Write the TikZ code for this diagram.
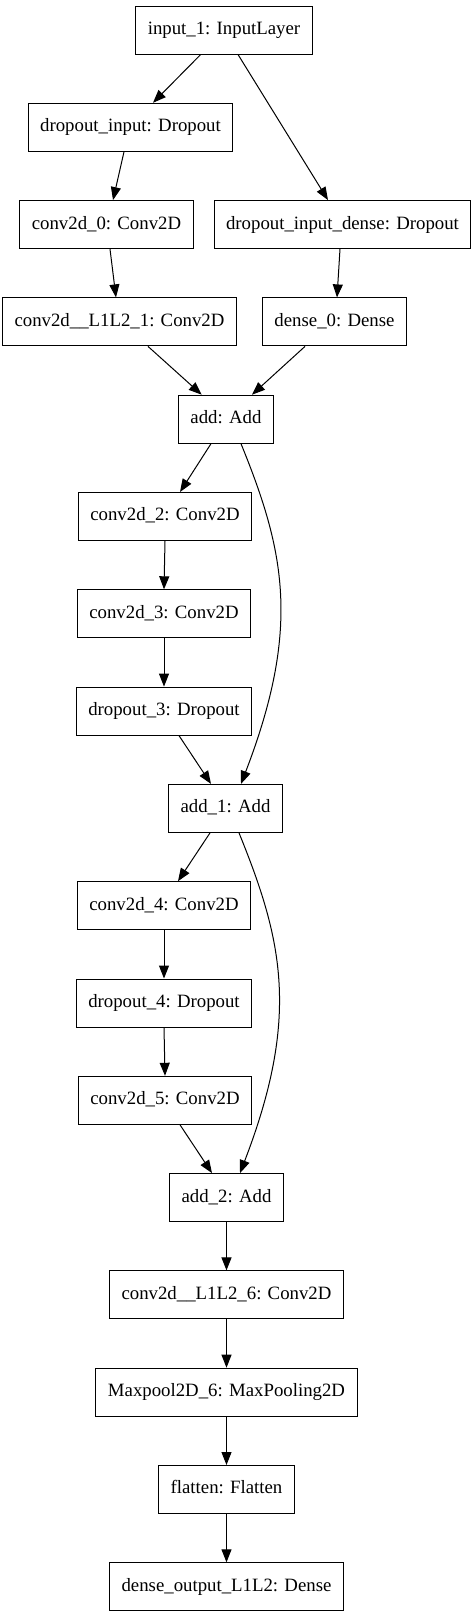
\documentclass[tikz,border=0pt]{standalone}
\usepackage{fontspec}
\setmainfont{Liberation Serif}
\usepackage{tikz}
\usetikzlibrary{arrows.meta}
\tikzstyle{layerBox} = [rectangle, draw, line width=1pt, minimum height=48pt, inner xsep=12pt, inner ysep=0pt, text height=12.8pt, text depth=4pt, font=\fontsize{18.8pt}{22pt}\selectfont]

\begin{document}
\begin{tikzpicture}[node distance=97.3pt, >={Triangle[length=13pt, width=10pt]}, line width=1pt]
    \useasboundingbox (0,0) rectangle (475pt,-1617pt);
    \node[layerBox] at (224pt,-30pt) (in1){input\_1: InputLayer};
    \node[layerBox, below of=in1, xshift=-93.5pt] (dropIn){dropout\_input: Dropout};
    \node[layerBox, below of=dropIn, xshift=-24pt] (conv0){conv2d\_0: Conv2D};
    \node[layerBox, below of=dropIn, xshift=212pt] (dropDense){dropout\_input\_dense: Dropout};
    \node[layerBox, below of=conv0, xshift=13pt] (l1l2a){conv2d\_\_L1L2\_1: Conv2D};
    \node[layerBox, below of=dropDense, xshift=-8pt] (dense0){dense\_0: Dense};
    \node[layerBox, below of=l1l2a, xshift=106.5pt] (add0){add: Add};
    \node[layerBox, below of=add0, xshift=-61pt] (conv2){conv2d\_2: Conv2D};
    \node[layerBox, below of=conv2, xshift=-1pt] (conv3){conv2d\_3: Conv2D};
    \node[layerBox, below of=conv3] (drop3){dropout\_3: Dropout};
    \node[layerBox, below of=drop3, xshift=61.5pt] (add1){add\_1: Add};
    \node[layerBox, below of=add1, xshift=-61.5pt] (conv4){conv2d\_4: Conv2D};
    \node[layerBox, below of=conv4] (drop4){dropout\_4: Dropout};
    \node[layerBox, below of=drop4, xshift=1pt] (conv5){conv2d\_5: Conv2D};
    \node[layerBox, below of=conv5, xshift=61.5pt] (add2){add\_2: Add};
    \node[layerBox, below of=add2] (l1l2b){conv2d\_\_L1L2\_6: Conv2D};
    \node[layerBox, below of=l1l2b] (pool){Maxpool2D\_6: MaxPooling2D};
    \node[layerBox, below of=pool] (flat){flatten: Flatten};
    \node[layerBox, below of=flat] (denseOut){dense\_output\_L1L2: Dense};

    \draw[->] ([xshift=-23.3pt]in1.south) -- ([xshift=22.5pt]dropIn.north);
    \draw[->] ([xshift=14pt]in1.south) -- ([xshift=-14.5pt]dropDense.north);
    \draw[->] ([xshift=-6.5pt]dropIn.south) -- ([xshift=6.5pt]conv0.north);
    \draw[->] ([xshift=3.5pt]conv0.south) -- ([xshift=-3.5pt]l1l2a.north);
    \draw[->] ([xshift=-2.5pt]dropDense.south) -- ([xshift=2.5pt]dense0.north);
    \draw[->] ([xshift=28.5pt]l1l2a.south) -- ([xshift=-24.3pt]add0.north);
    \draw[->] ([xshift=-29.5pt]dense0.south) -- ([xshift=26pt]add0.north);
    \draw[->] ([xshift=-15pt]add0.south) -- ([xshift=15pt]conv2.north);
    \draw[->] ([xshift=15pt]add0.south) .. controls +(44pt,-108pt) and +(60pt,156pt) .. ([xshift=15.5pt]add1.north);
    \draw[->] (conv2.south) -- (conv3.north);
    \draw[->] (conv3.south) -- (drop3.north);
    \draw[->] ([xshift=15pt]drop3.south) -- ([xshift=-14.5pt]add1.north);
    \draw[->] ([xshift=-15.5pt]add1.south) -- ([xshift=14pt]conv4.north);
    \draw[->] ([xshift=13.5pt]add1.south) .. controls +(44pt,-108pt) and +(60pt,156pt) .. ([xshift=13.5pt]add2.north);
    \draw[->] (conv4.south) -- (drop4.north);
    \draw[->] (drop4.south) -- (conv5.north);
    \draw[->] ([xshift=15pt]conv5.south) -- ([xshift=-14.5pt]add2.north);
    \draw[->] (add2) -- (l1l2b);
    \draw[->] (l1l2b) -- (pool);
    \draw[->] (pool) -- (flat);
    \draw[->] (flat) -- (denseOut);
\end{tikzpicture}
\end{document}
